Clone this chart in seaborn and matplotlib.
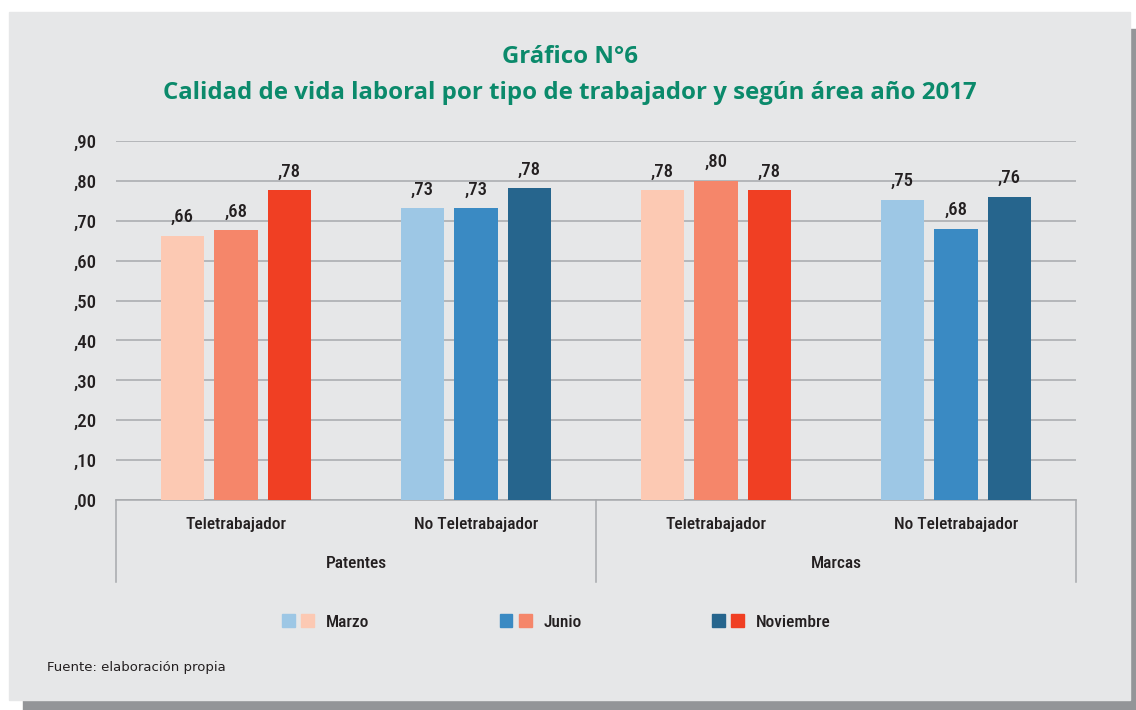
import pandas as pd
import matplotlib.pyplot as plt
import seaborn as sns
from matplotlib import font_manager
from matplotlib.patches import Rectangle, Patch
from matplotlib.legend_handler import HandlerTuple

# datos del gráfico
areas = ['Patentes', 'Marcas']
tipos = ['Teletrabajador', 'No Teletrabajador']
meses = ['Marzo', 'Junio', 'Noviembre']
patentes_tele = [0.662, 0.676, 0.776]
patentes_no_tele = [0.731, 0.731, 0.782]
marcas_tele = [0.776, 0.800, 0.776]
marcas_no_tele = [0.753, 0.680, 0.760]
y_ticks = [0.0, 0.1, 0.2, 0.3, 0.4, 0.5, 0.6, 0.7, 0.8, 0.9]

titulo_1 = 'Gráfico N°6'
titulo_2 = 'Calidad de vida laboral por tipo de trabajador y según área año 2017'
fuente = 'Fuente: elaboración propia'

rojos = ['#fcc9b3', '#f5866a', '#f03f23']
azules = ['#9dc7e5', '#3a8ac3', '#26658d']
gris = '#a7a9ac'
texto = '#231f20'
verde = '#0b8a6b'

# fuente condensada si existe
installed = {f.name for f in font_manager.fontManager.ttflist}
narrow = 'DejaVu Sans'
for n in ['Liberation Sans Narrow', 'Roboto Condensed', 'Open Sans Condensed']:
    if n in installed:
        narrow = n
        break

# familia con negrita real para el título
bold_fams = {f.name for f in font_manager.fontManager.ttflist
             if f.weight in ('bold', 700, 'semibold', 600)}
title_font = 'DejaVu Sans'
for n in ['Noto Sans', 'Open Sans', 'Lato']:
    if n in bold_fams:
        title_font = n
        break

valores = {('Patentes', 'Teletrabajador'): patentes_tele,
           ('Patentes', 'No Teletrabajador'): patentes_no_tele,
           ('Marcas', 'Teletrabajador'): marcas_tele,
           ('Marcas', 'No Teletrabajador'): marcas_no_tele}
rows = []
for area in areas:
    for tipo in tipos:
        for mes, v in zip(meses, valores[(area, tipo)]):
            rows.append({'grupo': area + ' - ' + tipo, 'area': area, 'tipo': tipo, 'mes': mes, 'valor': v})
df = pd.DataFrame(rows)
orden = [a + ' - ' + t for a in areas for t in tipos]

fig = plt.figure(figsize=(11.36, 7.10), dpi=100)
fig.patch.set_facecolor('white')
# sombra y panel
fig.patches.append(Rectangle((23 / 1136, 0), 1113 / 1136, 681 / 710, transform=fig.transFigure,
                             color='#939598', zorder=-3))
fig.patches.append(Rectangle((9 / 1136, 10 / 710), 1121 / 1136, 688 / 710, transform=fig.transFigure,
                             color='#e6e7e8', zorder=-2))

ax = fig.add_axes([116 / 1136, 210 / 710, 960 / 1136, 359 / 710])
ax.set_facecolor('none')

for tipo, pal in [('Teletrabajador', rojos), ('No Teletrabajador', azules)]:
    sub = df[df['tipo'] == tipo]
    sns.barplot(data=sub, x='grupo', y='valor', hue='mes', order=orden, hue_order=meses,
                palette=pal, saturation=1, width=0.67, gap=0.19, errorbar=None,
                legend=False, ax=ax, zorder=3)

def fmt(v):
    return ',' + f'{v:.2f}'.split('.')[1]

for c in ax.containers:
    ax.bar_label(c, labels=[fmt(v) for v in c.datavalues], padding=7,
                 fontsize=13.5, fontweight='medium', color=texto, family=narrow)

ax.set_ylim(0, 0.9)
ax.set_xlim(-0.5, len(orden) - 0.5)
ax.set_yticks(y_ticks, [fmt(v) for v in y_ticks])
ax.set_xticks(range(len(orden)), [t for a in areas for t in tipos])
ax.tick_params(axis='both', length=0, colors=texto, labelsize=12.5)
ax.tick_params(axis='y', pad=14, labelsize=13.5)
ax.tick_params(axis='x', pad=12)
for lab in ax.get_xticklabels() + ax.get_yticklabels():
    lab.set_family(narrow)
    lab.set_fontweight('medium')
ax.set_xlabel('')
ax.set_ylabel('')
ax.grid(axis='y', color=gris, linewidth=1.1, zorder=0)
ax.set_axisbelow(True)
for s in ['top', 'right', 'left']:
    ax.spines[s].set_visible(False)
ax.spines['bottom'].set_color(gris)
ax.spines['bottom'].set_linewidth(1.1)

# eje jerárquico: separadores y nombres de área
trans = ax.get_xaxis_transform()
n_tipos = len(tipos)
for i in range(len(areas) + 1):
    xb = i * n_tipos - 0.5
    ax.plot([xb, xb], [0, -0.228], transform=trans, color=gris, linewidth=1.1, clip_on=False)
for i, area in enumerate(areas):
    xc = i * n_tipos + (n_tipos - 1) / 2
    ax.text(xc, -0.176, area, transform=trans, ha='center', va='center',
            fontsize=12.5, fontweight='medium', color=texto, family=narrow)

# leyenda con pares de colores
handles = [(Patch(color=azules[i]), Patch(color=rojos[i])) for i in range(len(meses))]
fig.legend(handles, meses, handler_map={tuple: HandlerTuple(ndivide=None, pad=0.37)},
           loc='center left', bbox_to_anchor=(282 / 1136, 1 - 622 / 710), ncol=3,
           frameon=False, borderpad=0, borderaxespad=0, handlelength=1.85, handleheight=0.75,
           handletextpad=0.68, columnspacing=7.5,
           prop={'family': narrow, 'size': 12.5, 'weight': 'medium'})
for t in fig.legends[0].get_texts():
    t.set_color(texto)

fig.text(570 / 1136, 1 - 57 / 710, titulo_1, ha='center', va='center', color=verde,
         fontsize=17.3, fontweight='bold', family=title_font)
fig.text(570 / 1136, 1 - 93 / 710, titulo_2, ha='center', va='center', color=verde,
         fontsize=17.3, fontweight='bold', family=title_font)
fig.text(47 / 1136, 1 - 667 / 710, fuente, ha='left', va='center', color=texto,
         fontsize=9.5, family='DejaVu Sans')

fig.savefig('out.png', dpi=100)
